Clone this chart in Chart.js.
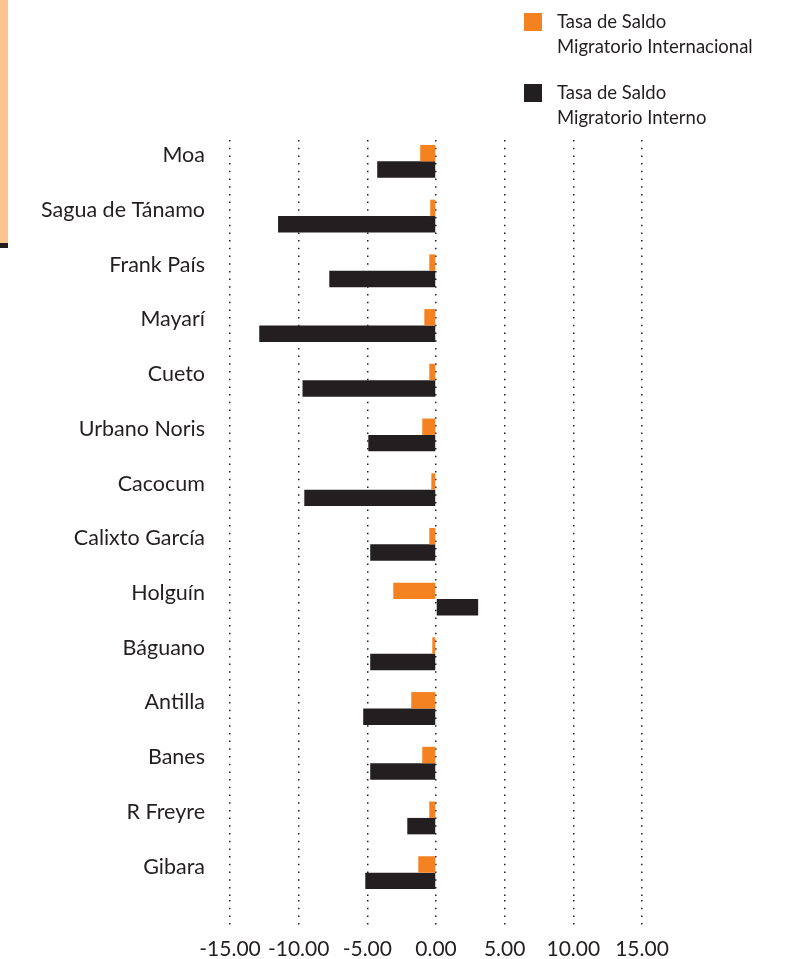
<!DOCTYPE html>
<html>
<head>
<meta charset="utf-8">
<script src="https://cdn.jsdelivr.net/npm/chart.js@4.4.1/dist/chart.umd.min.js"></script>
<style>
    body { margin: 0; background: #fff; }
    #marco { position: relative; width: 785px; height: 959px; }
    #franja { position: absolute; left: 0; top: 0; width: 8px; height: 243px; background: #fcc48e; }
    #franja-borde { position: absolute; left: 0; top: 243px; width: 8px; height: 5px; background: #231f20; }
    #leyenda { position: absolute; left: 524px; top: 0; font-family: Lato, sans-serif; font-size: 18.5px; color: #231f20; }
    .item { position: absolute; left: 0; width: 260px; }
    .cuadro { position: absolute; left: 0; width: 18px; height: 18px; }
    .texto { position: absolute; left: 33px; top: -4px; line-height: 25px; white-space: nowrap; }
</style>
</head>
<body>
<div id="marco">
    <div id="franja"></div>
    <div id="franja-borde"></div>
    <canvas id="grafica" width="785" height="959"></canvas>
    <div id="leyenda"></div>
</div>
<script>
// municipios (de arriba hacia abajo)
const municipios = ["Moa", "Sagua de Tánamo", "Frank País", "Mayarí", "Cueto", "Urbano Noris",
    "Cacocum", "Calixto García", "Holguín", "Báguano", "Antilla", "Banes", "R Freyre", "Gibara"];

// Tasa de Saldo Migratorio Internacional
const saldoInternacional = [-1.15, -0.42, -0.49, -0.85, -0.49, -1.00, -0.34, -0.49, -3.11, -0.27, -1.80, -1.00, -0.49, -1.29];

// Tasa de Saldo Migratorio Interno
const saldoInterno = [-4.28, -11.50, -7.77, -12.87, -9.72, -4.93, -9.59, -4.79, 3.07, -4.79, -5.30, -4.79, -2.09, -5.15];

// marcas del eje x
const marcasX = [-15, -10, -5, 0, 5, 10, 15];

const series = [
    { label: ["Tasa de Saldo", "Migratorio Internacional"], data: saldoInternacional, color: "#f58220" },
    { label: ["Tasa de Saldo", "Migratorio Interno"], data: saldoInterno, color: "#231f20" },
];

// leyenda en html (dos lineas por serie)
const leyenda = document.getElementById("leyenda");
series.forEach((s, i) => {
    const item = document.createElement("div");
    item.className = "item";
    item.style.top = (i === 0 ? 12.5 : 84) + "px";
    item.innerHTML = '<div class="cuadro" style="background:' + s.color + '"></div>' +
        '<div class="texto">' + s.label.join("<br>") + '</div>';
    leyenda.appendChild(item);
});

const ctx = document.getElementById("grafica").getContext("2d");
new Chart(ctx, {
    type: "bar",
    data: {
        labels: municipios,
        datasets: series.map(s => ({
            label: s.label.join(" "),
            data: s.data,
            backgroundColor: s.color,
            borderWidth: 0,
            barPercentage: 1,
            categoryPercentage: 0.6,
        })),
    },
    options: {
        indexAxis: "y",
        responsive: false,
        animation: false,
        layout: { padding: { top: 134, right: 143, bottom: 0, left: 0 } },
        plugins: {
            legend: { display: false },
            tooltip: { enabled: false },
        },
        scales: {
            x: {
                min: -15,
                max: 15,
                afterBuildTicks: (scale) => { scale.ticks = marcasX.map(v => ({ value: v })); },
                afterFit: (scale) => { scale.height = 59; },
                border: { display: false, dash: [1.5, 6.2], dashOffset: -6 },
                grid: {
                    color: "#231f20",
                    lineWidth: 1.5,
                    tickBorderDash: [1.5, 6.2],
                    tickLength: 25,
                    drawTicks: true,
                },
                ticks: {
                    color: "#231f20",
                    font: { family: "Lato", size: 21 },
                    padding: 12,
                    maxRotation: 0,
                    autoSkip: false,
                    callback: (v) => Number(v).toFixed(2),
                },
            },
            y: {
                afterFit: (scale) => { scale.width = 230; },
                border: { display: false },
                grid: { display: false },
                ticks: {
                    color: "#231f20",
                    font: { family: "Lato", size: 21.5 },
                    padding: 17,
                    labelOffset: -6,
                    autoSkip: false,
                },
            },
        },
    },
});
</script>
</body>
</html>
